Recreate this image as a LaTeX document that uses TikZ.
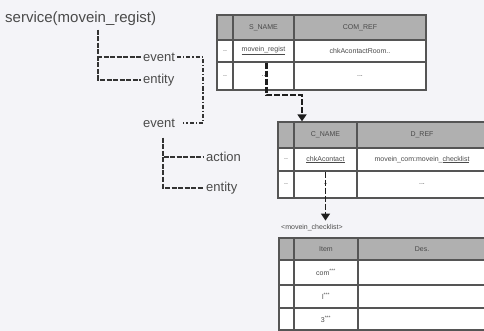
\documentclass[tikz,border=0pt]{standalone}
\usepackage{fontspec}
\setmainfont{Liberation Sans}
\usetikzlibrary{arrows.meta}
\definecolor{bgc}{HTML}{F4F4F8}
\definecolor{txtc}{HTML}{4A4A4A}
\definecolor{treec}{HTML}{333333}
\definecolor{linkc}{HTML}{1E1E1E}
\definecolor{tblline}{HTML}{555555}
\definecolor{hdrc}{HTML}{B0B0B0}
\tikzset{
  label text/.style={text=txtc, inner sep=2pt, anchor=west},
  cell/.style={draw=tblline, line width=1.3pt, fill=white, inner sep=0pt, text=txtc, font=\fontsize{7}{8}\selectfont},
  hcell/.style={cell, fill=hdrc},
  treeline/.style={draw=treec, line width=2pt, dash pattern=on 5pt off 1.5pt},
  linkdd/.style={draw=treec, line width=1.5pt, dash pattern=on 4pt off 2pt on 1.2pt off 2pt},
  tblink/.style={draw=linkc, line width=2.5pt, dash pattern=on 6pt off 2pt, -{Triangle[width=9pt,length=7pt]}},
}

\begin{document}
\begin{tikzpicture}[x=1pt,y=-1pt]
\useasboundingbox (0,0) rectangle (484,331);
\fill[bgc] (0,0) rectangle (484,331);

% service tree
\node[label text, font=\fontsize{15}{17}\selectfont] (svc) at (3,19) {service(movein\_regist)};
\node[label text, font=\fontsize{13}{15}\selectfont] (ev1) at (141,57) {event};
\node[label text, font=\fontsize{13}{15}\selectfont] (en1) at (141,80) {entity};
\node[label text, font=\fontsize{13}{15}\selectfont] (ev2) at (141,123) {event};
\node[label text, font=\fontsize{13}{15}\selectfont] (ac2) at (204,157) {action};
\node[label text, font=\fontsize{13}{15}\selectfont] (en2) at (204,188) {entity};
\coordinate (root1) at (98,30);
\coordinate (root2) at (163,138);
\coordinate (jx) at (203,90);
\draw[treeline] (root1) |- (ev1.west);
\draw[treeline] (root1) |- (en1.west);
\draw[treeline] (root2) |- (ac2.west);
\draw[treeline] (root2) |- (en2.west);
\draw[linkdd] (ev1.east) -| (jx) |- ([xshift=6pt]ev2.east);

% table S_NAME
\node[hcell, minimum width=16pt, minimum height=25pt] (t1ha) at (225,27.5) {};
\node[hcell, minimum width=61pt, minimum height=25pt] (t1hb) at (263.5,27.5) {S\_NAME};
\node[hcell, minimum width=132pt, minimum height=25pt] (t1hc) at (360,27.5) {COM\_REF};
\node[cell, minimum width=16pt, minimum height=22pt] (t1aa) at (225,51) {..};
\node[cell, minimum width=61pt, minimum height=22pt] (t1ab) at (263.5,51) {\underline{movein\_regist}};
\node[cell, minimum width=132pt, minimum height=22pt] (t1ac) at (360,51) {chkAcontactRoom..};
\node[cell, minimum width=16pt, minimum height=28pt] (t1ba) at (225,76) {..};
\node[cell, minimum width=61pt, minimum height=28pt] (t1bb) at (263.5,76) {..};
\node[cell, minimum width=132pt, minimum height=28pt] (t1bc) at (360,76) {...};

% table C_NAME
\node[hcell, minimum width=16pt, minimum height=26pt] (t2ha) at (286,135) {};
\node[hcell, minimum width=63pt, minimum height=26pt] (t2hb) at (325.5,135) {C\_NAME};
\node[hcell, minimum width=130pt, minimum height=26pt] (t2hc) at (422,135) {D\_REF};
\node[cell, minimum width=16pt, minimum height=23pt] (t2aa) at (286,159.5) {..};
\node[cell, minimum width=63pt, minimum height=23pt] (t2ab) at (325.5,159.5) {\underline{chkAcontact}};
\node[cell, minimum width=130pt, minimum height=23pt] (t2ac) at (422,159.5) {movein\_com:movein\_\underline{checklist}};
\node[cell, minimum width=16pt, minimum height=27pt] (t2ba) at (286,184.5) {..};
\node[cell, minimum width=63pt, minimum height=27pt] (t2bb) at (325.5,184.5) {..};
\node[cell, minimum width=130pt, minimum height=27pt] (t2bc) at (422,184.5) {...};

% table movein_checklist
\node[label text, inner sep=0pt, font=\fontsize{7}{8}\selectfont] (t3lbl) at (281,228) {<movein\_checklist>};
\node[hcell, minimum width=15pt, minimum height=22pt] (t3ha) at (286.5,249) {};
\node[hcell, minimum width=64pt, minimum height=22pt] (t3hb) at (326,249) {Item};
\node[hcell, minimum width=128pt, minimum height=22pt] (t3hc) at (422,249) {Des.};
\node[cell, minimum width=15pt, minimum height=25pt] (t3aa) at (286.5,272.5) {};
\node[cell, minimum width=64pt, minimum height=25pt] (t3ab) at (326,272.5) {com\textsuperscript{***}};
\node[cell, minimum width=128pt, minimum height=25pt] (t3ac) at (422,272.5) {};
\node[cell, minimum width=15pt, minimum height=23pt] (t3ba) at (286.5,296.5) {};
\node[cell, minimum width=64pt, minimum height=23pt] (t3bb) at (326,296.5) {l\textsuperscript{***}};
\node[cell, minimum width=128pt, minimum height=23pt] (t3bc) at (422,296.5) {};
\node[cell, minimum width=15pt, minimum height=22pt] (t3ca) at (286.5,319) {};
\node[cell, minimum width=64pt, minimum height=22pt] (t3cb) at (326,319) {3\textsuperscript{***}};
\node[cell, minimum width=128pt, minimum height=22pt] (t3cc) at (422,319) {};

% links between tables
\coordinate (bend1) at (302,95);
\draw[tblink] ([xshift=3pt]t1ab.south) |- (bend1) -- (bend1 |- t2hb.north);
\draw[tblink, line width=1.5pt] (t2ab.south) -- ([yshift=4pt]t2ab.south |- t3lbl.north);
\end{tikzpicture}
\end{document}
